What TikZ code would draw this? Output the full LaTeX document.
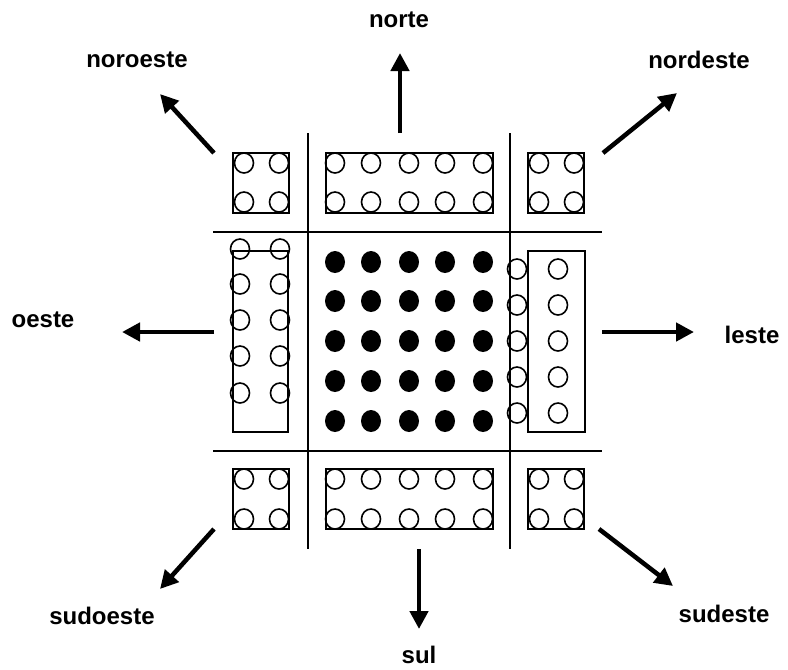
\documentclass[tikz,border=0pt]{standalone}
\usepackage{fontspec}
\setmainfont{Liberation Sans}
\usetikzlibrary{arrows.meta}
\begin{document}
\begin{tikzpicture}[x=0.75pt,y=-0.75pt,
  grid/.style={line width=1.2pt},
  box/.style={line width=1.1pt},
  hole/.style={line width=1.2pt},
  dot/.style={fill=black},
  dirarrow/.style={line width=3.4pt,-{Triangle[length=13.5pt,width=13.5pt]}},
  dirlabel/.style={font=\bfseries\fontsize{18pt}{21pt}\selectfont,inner sep=0pt}]
\useasboundingbox[fill=white] (0,0) rectangle (788,669);
% grid lines
\draw[grid] (308,133) -- (308,549);
\draw[grid] (510,133) -- (510,549);
\draw[grid] (213,232) -- (602,232);
\draw[grid] (213,451) -- (602,451);
% corner and side boxes
\draw[box] (233,153) rectangle (289,213);
\draw[box] (326,153) rectangle (493,213);
\draw[box] (528,153) rectangle (584,213);
\draw[box] (233,469) rectangle (289,529);
\draw[box] (326,469) rectangle (493,529);
\draw[box] (528,469) rectangle (584,529);
\draw[box] (233,251) rectangle (288,432);
\draw[box] (528,251) rectangle (585,432);
% holes in small boxes
\foreach \x in {244,279,539,574}
  \foreach \y in {163,202,479,519}
    \draw[hole] (\x,\y) ellipse [x radius=9.5, y radius=10];
\foreach \x in {335,371,409,445,483}
  \foreach \y in {163,202,479,519}
    \draw[hole] (\x,\y) ellipse [x radius=9.5, y radius=10];
% holes in tall boxes
\foreach \x in {240,280}
  \foreach \y in {249,284,320,356,393}
    \draw[hole] (\x,\y) ellipse [x radius=9.5, y radius=10];
\foreach \x in {517,558}
  \foreach \y in {269,305,341,377,413}
    \draw[hole] (\x,\y) ellipse [x radius=9.5, y radius=10];
% black dots
\foreach \x in {335,371,409,445,483}
  \foreach \y in {262,301,341,381,421}
    \fill[dot] (\x,\y) ellipse [x radius=10, y radius=11];
% arrow ends
\coordinate (nT) at (400,133); \coordinate (nH) at (400,53);
\coordinate (nwT) at (214,153); \coordinate (nwH) at (160,94);
\coordinate (neT) at (603,153); \coordinate (neH) at (677,93);
\coordinate (wT) at (214,332); \coordinate (wH) at (122,332);
\coordinate (eT) at (602,332); \coordinate (eH) at (694,332);
\coordinate (swT) at (214,529); \coordinate (swH) at (160,589);
\coordinate (sT) at (419,549); \coordinate (sH) at (419,629);
\coordinate (seT) at (599,529); \coordinate (seH) at (673,586);
\draw[dirarrow] (nT) -- (nH);
\draw[dirarrow] (nwT) -- (nwH);
\draw[dirarrow] (neT) -- (neH);
\draw[dirarrow] (wT) -- (wH);
\draw[dirarrow] (eT) -- (eH);
\draw[dirarrow] (swT) -- (swH);
\draw[dirarrow] (sT) -- (sH);
\draw[dirarrow] (seT) -- (seH);
% labels
\node[dirlabel] (ln) at (399,20) {norte};
\node[dirlabel] (lnw) at (137,60) {noroeste};
\node[dirlabel] (lne) at (699,60) {nordeste};
\node[dirlabel] (lw) at (43,320) {oeste};
\node[dirlabel] (le) at (752,335) {leste};
\node[dirlabel] (lsw) at (102,616) {sudoeste};
\node[dirlabel] (ls) at (419,655) {sul};
\node[dirlabel] (lse) at (724,614) {sudeste};
\end{tikzpicture}
\end{document}
